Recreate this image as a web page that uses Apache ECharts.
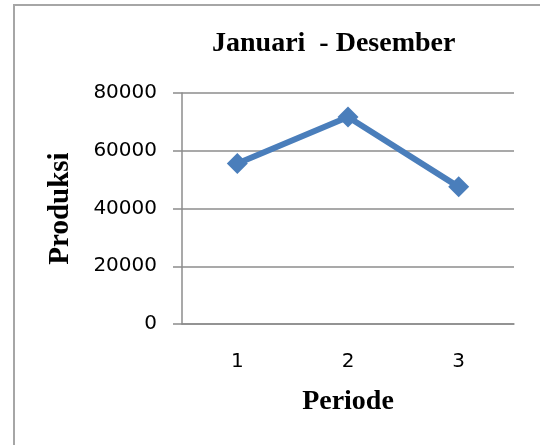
<!DOCTYPE html>
<html>
<head>
<meta charset="utf-8">
<script src="https://cdn.jsdelivr.net/npm/echarts@6/dist/echarts.min.js"></script>
<style>
  html, body { margin: 0; padding: 0; background: #fff; }
  #chart { width: 540px; height: 445px; }
</style>
</head>
<body>
<div id="chart"></div>
<script>
// data
const periods = ['1', '2', '3']
const produksi = [55600, 71700, 47500]
const yTicks = [0, 20000, 40000, 60000, 80000]

const serif = '"Liberation Serif", "Times New Roman", serif'
const sans = '"DejaVu Sans", sans-serif'

const chart = echarts.init(document.getElementById('chart'))
chart.setOption({
  animation: false,
  backgroundColor: '#fff',
  graphic: [{
    // chart frame, only left & top edges visible in the crop
    type: 'rect',
    shape: { x: 14, y: 5, width: 600, height: 500 },
    style: { fill: 'none', stroke: '#a6a6a6', lineWidth: 2 },
    silent: true
  }],
  title: {
    text: 'Januari  - Desember',
    left: 207,
    top: 25,
    textStyle: { fontFamily: serif, fontWeight: 'bold', fontSize: 28, color: '#000' }
  },
  grid: {
    left: 182,
    right: 26,
    top: 93,
    bottom: 121
  },
  xAxis: {
    type: 'category',
    data: periods,
    boundaryGap: true,
    name: 'Periode',
    nameLocation: 'middle',
    nameGap: 64,
    nameTextStyle: { fontFamily: serif, fontWeight: 'bold', fontSize: 28, color: '#000' },
    axisLine: { lineStyle: { color: '#8c8c8c', width: 1.5 } },
    axisTick: { show: false },
    axisLabel: { margin: 28, fontFamily: sans, fontSize: 20, color: '#000' }
  },
  yAxis: {
    type: 'value',
    min: yTicks[0],
    max: yTicks[yTicks.length - 1],
    interval: yTicks[1] - yTicks[0],
    name: 'Produksi',
    nameLocation: 'middle',
    nameGap: 107,
    nameTextStyle: { fontFamily: serif, fontWeight: 'bold', fontSize: 29, color: '#000' },
    axisLine: { show: true, lineStyle: { color: '#8c8c8c', width: 1.5 } },
    axisTick: { show: true, length: 9, lineStyle: { color: '#8c8c8c', width: 1.5 } },
    axisLabel: {
      margin: 25, fontFamily: sans, fontSize: 20, color: '#000',
      formatter: (v) => String(v)
    },
    splitLine: { lineStyle: { color: '#8c8c8c', width: 1.5 } }
  },
  series: [{
    type: 'line',
    data: produksi,
    symbol: 'diamond',
    symbolSize: 21,
    itemStyle: { color: '#4a7ebb' },
    lineStyle: { color: '#4a7ebb', width: 6 }
  }]
})
</script>
</body>
</html>
